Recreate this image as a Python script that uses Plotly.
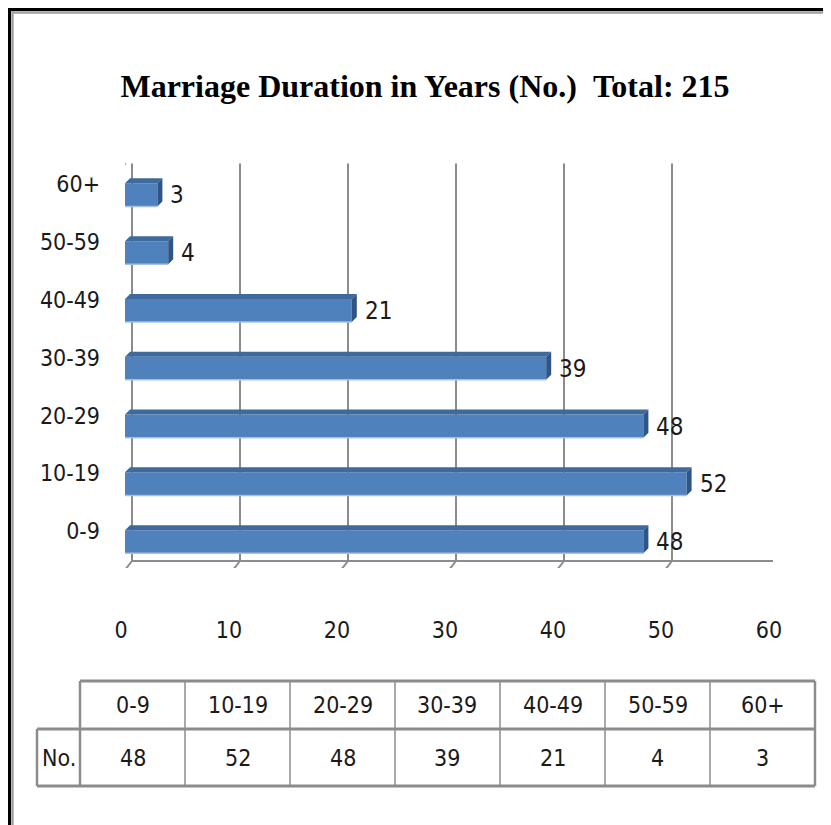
import plotly.graph_objects as go

# ---------------- data ----------------
categories = ["0-9", "10-19", "20-29", "30-39", "40-49", "50-59", "60+"]
counts = [48, 52, 48, 39, 21, 4, 3]
x_ticks = [0, 10, 20, 30, 40, 50, 60]
title_text = "Marriage Duration in Years (No.)&nbsp;&nbsp;Total: 215"
row_label = "No."

# ---------------- layout helpers ----------------
OFF = 8                       # page body margin
W, H = 831 - OFF, 825 - OFF
def px(x): return (x - OFF) / W
def py(y): return 1 - (y - OFF) / H

X0, X60 = 125, 773            # screen x of value 0 and 60 (bar plane)
PXU = (X60 - X0) / 60.0
Y_LO, Y_HI = 568.0, 163.4     # screen y of category -0.5 and 6.5
PYU = (Y_LO - Y_HI) / 7.0

LABEL_FONT = "DejaVu Sans Condensed, Liberation Sans Narrow, sans-serif"
GRID = "#8C8C8C"
TXT = "#1a1a1a"

pos = list(range(len(categories)))
FRONT_W = 0.40
FRONT_OFF = -0.045
dxu = 5 / PXU
dyu = 5 / PYU

fig = go.Figure()

# front faces
fig.add_trace(go.Bar(
    x=counts, y=[p + FRONT_OFF for p in pos], orientation="h", width=FRONT_W,
    marker=dict(color="#4F81BD", line=dict(width=0)), hoverinfo="skip"))

# top faces and right faces (3-D effect)
tx, ty, rx, ry = [], [], [], []
for p, v in zip(pos, counts):
    top = p + FRONT_OFF + FRONT_W / 2
    bot = p + FRONT_OFF - FRONT_W / 2
    tx += [0, v, v + dxu, dxu, 0, None]
    ty += [top, top, top + dyu, top + dyu, top, None]
    rx += [v, v, v + dxu, v + dxu, v, None]
    ry += [bot, top, top + dyu, bot + dyu, bot, None]
fig.add_trace(go.Scatter(x=tx, y=ty, mode="lines", fill="toself", fillcolor="#3F6A9C",
                         line=dict(width=0, color="#3F6A9C"), hoverinfo="skip"))
fig.add_trace(go.Scatter(x=rx, y=ry, mode="lines", fill="toself", fillcolor="#2E5585",
                         line=dict(width=0, color="#2E5585"), hoverinfo="skip"))
# light bottom edge
bx, by = [], []
for p, v in zip(pos, counts):
    bot = p + FRONT_OFF - FRONT_W / 2
    bx += [0, v, None]
    by += [bot, bot, None]
fig.add_trace(go.Scatter(x=bx, y=by, mode="lines", line=dict(width=1.5, color="#A7C0E0"),
                         hoverinfo="skip"))

shapes = []
# 3-D frame: back gridlines / walls
back_dx = 7 / PXU
front_dx = -4 / PXU
y_floor_front = -0.5 - 7 / PYU
y_floor_back = -0.5 + 7 / PYU
y_top_back = 6.5 + (Y_HI - 155) / PYU
y_top_front = y_top_back - 14 / PYU
for v in x_ticks:
    shapes.append(dict(type="line", xref="x", yref="y", x0=v + back_dx, x1=v + back_dx,
                       y0=y_floor_back, y1=y_top_back, line=dict(color=GRID, width=2), layer="below"))
    shapes.append(dict(type="line", xref="x", yref="y", x0=v + front_dx, x1=v + back_dx,
                       y0=y_floor_front, y1=y_floor_back, line=dict(color=GRID, width=2), layer="below"))
shapes.append(dict(type="line", xref="x", yref="y", x0=x_ticks[0] + front_dx, x1=x_ticks[-1] + front_dx,
                   y0=y_floor_front, y1=y_floor_front, line=dict(color=GRID, width=2.5), layer="below"))
shapes.append(dict(type="line", xref="x", yref="y", x0=x_ticks[0] + back_dx, x1=x_ticks[-1] + back_dx,
                   y0=y_floor_back, y1=y_floor_back, line=dict(color=GRID, width=2), layer="below"))
shapes.append(dict(type="path", xref="x", yref="y",
                   path=f"M{front_dx},{y_floor_front} L{front_dx},{y_top_front} L{back_dx},{y_top_back}",
                   line=dict(color=GRID, width=2), layer="below"))

# outer border (top and left)
shapes.append(dict(type="line", xref="paper", yref="paper", x0=px(8), x1=1, y0=py(9.5), y1=py(9.5),
                   line=dict(color="black", width=3)))
shapes.append(dict(type="line", xref="paper", yref="paper", x0=px(12), x1=1, y0=py(12.5), y1=py(12.5),
                   line=dict(color="#A0A0A0", width=2.5)))
shapes.append(dict(type="line", xref="paper", yref="paper", x0=px(9.5), x1=px(9.5), y0=py(8), y1=0,
                   line=dict(color="black", width=3)))
shapes.append(dict(type="line", xref="paper", yref="paper", x0=px(12.5), x1=px(12.5), y0=py(11), y1=0,
                   line=dict(color="#A0A0A0", width=2.5)))

# data table
TL, T0, CW = 37, 80, 105
R0, R1, R2 = 681, 729, 786
n = len(categories)
TR = T0 + CW * n
TCOL = "#8C8C8C"
shapes.append(dict(type="line", xref="paper", yref="paper", x0=px(T0), x1=px(TR), y0=py(R0), y1=py(R0),
                   line=dict(color=TCOL, width=3)))
shapes.append(dict(type="line", xref="paper", yref="paper", x0=px(TL), x1=px(TR), y0=py(R1), y1=py(R1),
                   line=dict(color=TCOL, width=3)))
shapes.append(dict(type="line", xref="paper", yref="paper", x0=px(TL), x1=px(TR), y0=py(R2), y1=py(R2),
                   line=dict(color=TCOL, width=3)))
shapes.append(dict(type="line", xref="paper", yref="paper", x0=px(TL), x1=px(TL), y0=py(R1), y1=py(R2),
                   line=dict(color=TCOL, width=2.5)))
for i in range(n + 1):
    xx = T0 + CW * i
    shapes.append(dict(type="line", xref="paper", yref="paper", x0=px(xx), x1=px(xx), y0=py(R0), y1=py(R2),
                       line=dict(color=TCOL, width=2.5 if i in (0, n) else 1.5)))

FS = 23
annotations = []
for i, (c, v) in enumerate(zip(categories, counts)):
    cx = T0 + CW * i + CW / 2
    annotations.append(dict(xref="paper", yref="paper", x=px(cx), y=py((R0 + R1) / 2), text=c,
                            showarrow=False, font=dict(family=LABEL_FONT, size=FS, color=TXT),
                            xanchor="center", yanchor="middle"))
    annotations.append(dict(xref="paper", yref="paper", x=px(cx), y=py((R1 + R2) / 2), text=str(v),
                            showarrow=False, font=dict(family=LABEL_FONT, size=FS, color=TXT),
                            xanchor="center", yanchor="middle"))
annotations.append(dict(xref="paper", yref="paper", x=px((TL + T0) / 2), y=py((R1 + R2) / 2), text=row_label,
                        showarrow=False, font=dict(family=LABEL_FONT, size=FS, color=TXT),
                        xanchor="center", yanchor="middle"))

# value labels
for p, v in zip(pos, counts):
    annotations.append(dict(xref="x", yref="y", x=v, y=p, text=str(v), showarrow=False,
                            xanchor="left", yanchor="middle", xshift=11, yshift=-3,
                            font=dict(family=LABEL_FONT, size=24, color=TXT)))

fig.update_layout(
    width=W, height=H, margin=dict(l=0, r=0, t=0, b=0, autoexpand=False),
    paper_bgcolor="white", plot_bgcolor="rgba(0,0,0,0)", showlegend=False,
    title=dict(text=title_text, x=px(425), xanchor="center", xref="paper",
               y=py(86), yref="container", yanchor="middle", automargin=False,
               font=dict(family="Liberation Serif, Times New Roman, serif", size=32, color="black",
                         weight="bold")),
    xaxis=dict(domain=[px(X0), px(X60)], range=[0, 60], tickvals=x_ticks, showgrid=False,
               zeroline=False, showline=False, ticks="", ticklabelshift=-4, ticklabelstandoff=46,
               automargin=False,
               tickfont=dict(family=LABEL_FONT, size=FS, color=TXT), fixedrange=True),
    yaxis=dict(domain=[py(Y_LO), py(Y_HI)], range=[-0.5, 6.5], tickvals=pos, ticktext=categories,
               showgrid=False, zeroline=False, showline=False, ticks="", ticklabelshift=-8,
               ticklabelstandoff=24, automargin=False,
               tickfont=dict(family=LABEL_FONT, size=FS, color=TXT),
               fixedrange=True),
    shapes=shapes, annotations=annotations,
)

fig.write_html("out.html")
